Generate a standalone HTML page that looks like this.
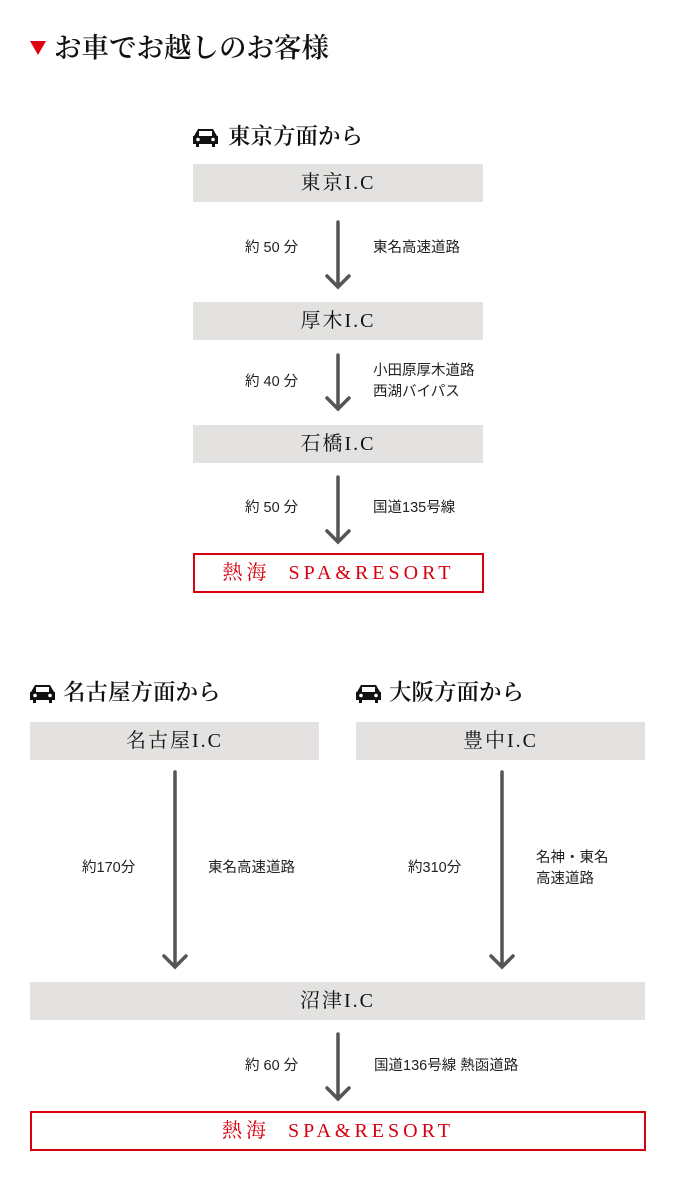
<!DOCTYPE html>
<html><head><meta charset="utf-8"><style>
body{margin:0;width:675px;height:1200px;background:#fff;position:relative;overflow:hidden}
.a{position:absolute}
.serif{font-family:"Liberation Serif","Noto Serif CJK SC",serif;color:#111;font-weight:600}
.sans{font-family:"Liberation Sans","Noto Sans CJK JP",sans-serif;color:#222;font-size:14.5px;line-height:21px;white-space:nowrap}
.box{position:absolute;background:#e3e2e0;height:38px;line-height:38px;text-align:center;font-family:"Liberation Serif","Noto Serif CJK SC",serif;font-size:20px;font-weight:normal;color:#111;letter-spacing:2px}
.red{position:absolute;border:2px solid #d7000f;box-sizing:border-box;height:40px;line-height:36px;text-align:center;font-family:"Liberation Serif","Noto Serif CJK SC",serif;font-size:20px;color:#d7000f;letter-spacing:4px}
.h{position:absolute;font-family:"Liberation Serif","Noto Serif CJK SC",serif;font-size:22.5px;font-weight:600;color:#111;line-height:26px;white-space:nowrap}
</style></head><body>
<svg class="a" style="left:0;top:0" width="675" height="1200">
<polygon points="30,41 46,41 38,55" fill="#e0000f"/>
<g stroke="#555" stroke-width="3.5" fill="none" stroke-linecap="round">
<path d="M338 222V287M327 276L338 287L349 276"/>
<path d="M338 355V409M327 398L338 409L349 398"/>
<path d="M338 477V542M327 531L338 542L349 531"/>
<path d="M175 772V967M164 956L175 967L186 956"/>
<path d="M502 772V967M491 956L502 967L513 956"/>
<path d="M338 1034V1099M327 1088L338 1099L349 1088"/>
</g>
<g fill="#111">
<g transform="translate(193,129)"><path d="M5 0H20L24 7H25V15H22V18H19V15H6V18H3V15H0V7H1Z"/><rect x="6" y="2" width="13" height="5" fill="#fff"/><circle cx="5" cy="10.5" r="1.8" fill="#fff"/><circle cx="20" cy="10.5" r="1.8" fill="#fff"/></g>
<g transform="translate(30,685)"><path d="M5 0H20L24 7H25V15H22V18H19V15H6V18H3V15H0V7H1Z"/><rect x="6" y="2" width="13" height="5" fill="#fff"/><circle cx="5" cy="10.5" r="1.8" fill="#fff"/><circle cx="20" cy="10.5" r="1.8" fill="#fff"/></g>
<g transform="translate(356,685)"><path d="M5 0H20L24 7H25V15H22V18H19V15H6V18H3V15H0V7H1Z"/><rect x="6" y="2" width="13" height="5" fill="#fff"/><circle cx="5" cy="10.5" r="1.8" fill="#fff"/><circle cx="20" cy="10.5" r="1.8" fill="#fff"/></g>
</g>
</svg>
<div class="a serif" style="left:54px;top:32px;font-size:27.5px;line-height:32px;white-space:nowrap">お車でお越しのお客様</div>
<div class="h" style="left:228px;top:124px">東京方面から</div>
<div class="box" style="left:193px;top:164px;width:290px">東京I.C</div>
<div class="a sans" style="left:245px;top:238px">約 50 分</div>
<div class="a sans" style="left:373px;top:238px">東名高速道路</div>
<div class="box" style="left:193px;top:302px;width:290px">厚木I.C</div>
<div class="a sans" style="left:245px;top:372px">約 40 分</div>
<div class="a sans" style="left:373px;top:361px">小田原厚木道路<br>西湖バイパス</div>
<div class="box" style="left:193px;top:425px;width:290px">石橋I.C</div>
<div class="a sans" style="left:245px;top:498px">約 50 分</div>
<div class="a sans" style="left:373px;top:498px">国道135号線</div>
<div class="red" style="left:193px;top:553px;width:291px">熱海&nbsp; SPA&amp;RESORT</div>
<div class="h" style="left:63px;top:680px">名古屋方面から</div>
<div class="h" style="left:389px;top:680px">大阪方面から</div>
<div class="box" style="left:30px;top:722px;width:289px">名古屋I.C</div>
<div class="box" style="left:356px;top:722px;width:289px">豊中I.C</div>
<div class="a sans" style="left:82px;top:858px">約170分</div>
<div class="a sans" style="left:208px;top:858px">東名高速道路</div>
<div class="a sans" style="left:408px;top:858px">約310分</div>
<div class="a sans" style="left:536px;top:848px">名神・東名<br>高速道路</div>
<div class="box" style="left:30px;top:982px;width:615px">沼津I.C</div>
<div class="a sans" style="left:245px;top:1056px">約 60 分</div>
<div class="a sans" style="left:374px;top:1056px">国道136号線 熱函道路</div>
<div class="red" style="left:30px;top:1111px;width:616px">熱海&nbsp; SPA&amp;RESORT</div>
</body></html>
